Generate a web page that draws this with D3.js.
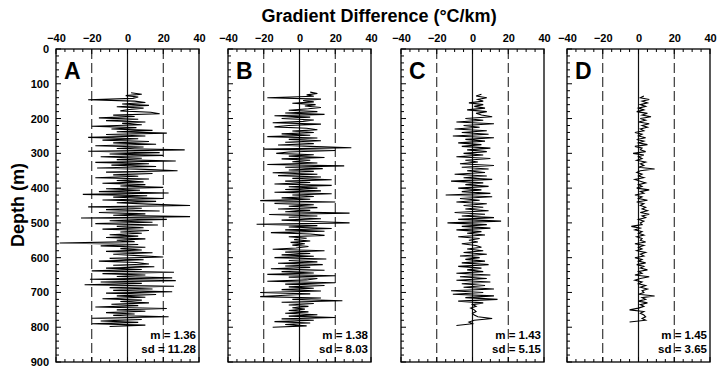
<!DOCTYPE html>
<html><head><meta charset="utf-8">
<script src="https://cdn.jsdelivr.net/npm/d3@7"></script>
<style>
html,body{margin:0;padding:0;background:#fff;}
svg{display:block;font-family:"Liberation Sans",Arial,Helvetica,sans-serif;}
</style></head><body>
<svg id="chart" width="727" height="381"></svg>
<script>
// ---------------- DATA ----------------
const panelLabels = ["A", "B", "C", "D"];
const means = ["1.36", "1.38", "1.43", "1.45"];
const sds = ["11.28", "8.03", "5.15", "3.65"];
const xTicks = [-40, -20, 0, 20, 40];
const yTicks = [0, 100, 200, 300, 400, 500, 600, 700, 800, 900];
const refLines = [-20, 20];
const startDepth = [126, 124, 130, 135];
const depthStep = [4, 4, 5, 5];

const valuesA = [
  2, 8, -1, 6, 3,
  -22, 4, 10, -3, 12, -6, 9, 1, -4, 13,
  18, -8, 4, -16, 6, -12, 10, -3, 8, -20,
  5, -9, 14, -6, 22, -12, 10, -22, 6, -14,
  12, -8, 16, -18, 9, -6, 32, -22, 18, -10,
  20, -15, 8, -6, 27, -18, 12, -9, 16, -17,
  10, 28, -12, 14, -8, 6, -18, 12, -6, 9,
  -14, 10, -4, 20, -12, 7, -16, 23, -25, 11,
  -8, 20, -14, 16, -6, 12, 35, -22, 8, -12,
  18, -16, 10, -8, 35, -26, 22, -10, 14, -18,
  17, -6, 9, -14, 12, -4, 8, -10, 6, -12,
  10, -6, 4, -38, 6, -15, 10, -4, 8, -12,
  14, -8, 6, 20, -10, 9, -16, 5, 12, -8,
  15, -12, 8, -20, 26, -14, 10, -6, 25, -21,
  27, -15, 8, -24, 26, -10, 14, -8, 25, -12,
  16, -6, 10, -14, 8, -4, 12, -9, 6, -18,
  22, -6, 10, -12, 4, -8, 23, -20, 8, -15,
  6, -20, 10, -10
];
const valuesB = [
  6, 10, 4, 8, -18,
  12, 2, 8, -4, 9, 3, 12, 5, -6, 10,
  -8, 14, -14, 6, -10, 8, 2, -15, 12, -6,
  -14, 4, 10, -4, 8, -10, 6, -18, 10, -6,
  12, -8, 8, -12, 6, 29, -20, 20, -6, -13,
  8, -6, 14, -10, 6, -4, 10, -18, 25, -8,
  13, -6, 8, -15, 10, -12, 12, -4, 18, -8,
  6, -14, 18, -6, 10, -8, 12, -14, 18, -4,
  8, -10, 6, -22, 20, -14, 8, -6, 10, -12,
  6, -8, 28, -17, 10, -6, 12, -10, 8, 28,
  -24, 10, -6, 18, -8, 14, -16, 6, 14, -6,
  4, -3, 6, -5, 3, -4, 5, -2, -15, 14,
  -8, 6, -10, 8, -14, 15, -6, 10, -12, 13,
  -8, 6, -16, 14, -10, 8, -18, 20, -6, 10,
  4, -18, 20, -8, 14, -6, 8, -10, 12, -22,
  6, -8, -22, 12, -4, 24, -10, 8, -6, 5,
  -4, 3, -6, 5, -8, 10, -6, 20, -10, 8,
  -14, 6, -8, 4, -15
];
const valuesC = [
  5, 2, 8, 3, 6,
  -2, 6, 1, 7, -3, 8, 2, 5, 11, -4,
  6, -9, 12, -5, 4, -10, 8, -6, 9, -11,
  12, -4, 7, -8, 5, -6, 10, -3, 8, -5,
  6, -9, 10, -4, 3, -7, 12, -6, 9, -3,
  7, -10, 8, -5, 11, -12, 6, -4, 9, -8,
  5, -6, 10, -15, 11, -7, 4, -9, 8, -5,
  6, -4, 9, -10, 7, -6, 12, -8, 16, -14,
  8, -6, 10, -9, 5, -3, 7, -8, 4, -2,
  3, -6, 2, 5, -3, 6, -5, 8, -7, 4,
  -4, 7, -6, 9, -8, 5, -3, 6, -9, 10,
  -7, 8, -9, 10, -6, 7, -5, 12, -12, 6,
  -11, 12, -4, 14, -8, 6, 0, 2, -1, 1,
  2, 0, 1, 3, 11, 1, -2, 0, -9
];
const valuesD = [
  3, 1, 6, 2, 5,
  1, 4, 0, 3, -1, 5, 2, 7, 1, 4,
  0, 6, 2, 5, 1, 3, -2, 2, 0, 4,
  -1, 3, 0, 5, -2, 2, 1, 4, -3, 3,
  0, 2, -1, 4, 1, 3, 0, 9, 1, -1,
  2, 0, 3, -2, 1, 4, 0, 2, -1, 6,
  1, 3, -2, 2, 0, 5, -1, 3, 1, 4,
  2, 5, 1, 6, 2, 4, 0, 3, 1, 2,
  -4, 1, -2, 2, 0, 3, -1, 2, 1, 4,
  -2, 3, 0, 2, -1, 4, 1, 3, -2, 2,
  0, 4, -1, 3, 1, 5, 0, 2, -2, 6,
  1, -2, 2, 0, 4, 1, 5, 2, 3, 0,
  9, 2, 4, 0, 5, 1, 3, 0, -5, 3,
  1, 3, 4, 2, 4, -5
];
const seriesValues = [valuesA, valuesB, valuesC, valuesD];

// ---------------- LAYOUT ----------------
const svg = d3.select("#chart");
const panelLeft = [56, 228, 401, 567];
const panelW = 143;
const plotTop = 49, plotBottom = 362;

const y = d3.scaleLinear().domain([0, 900]).range([plotTop, plotBottom]);

svg.append("text")
  .attr("x", 379).attr("y", 22)
  .attr("text-anchor", "middle")
  .attr("font-size", 18).attr("font-weight", "bold")
  .text("Gradient Difference (°C/km)");

svg.append("text")
  .attr("transform", "translate(24,205) rotate(-90)")
  .attr("text-anchor", "middle")
  .attr("font-size", 18).attr("font-weight", "bold")
  .text("Depth (m)");

panelLabels.forEach((lab, i) => {
  const x = d3.scaleLinear().domain([-40, 40]).range([panelLeft[i], panelLeft[i] + panelW]);
  const g = svg.append("g");

  refLines.forEach(v => {
    g.append("line")
      .attr("x1", x(v)).attr("x2", x(v))
      .attr("y1", plotTop).attr("y2", plotBottom)
      .attr("stroke", "#111").attr("stroke-width", 1)
      .attr("stroke-dasharray", "10,4");
  });
  g.append("line")
    .attr("x1", x(0)).attr("x2", x(0))
    .attr("y1", plotTop).attr("y2", plotBottom)
    .attr("stroke", "#111").attr("stroke-width", 1.2);

  const pts = seriesValues[i].map((v, k) => ({ v: v, depth: startDepth[i] + k * depthStep[i] }));
  g.append("path")
    .datum(pts)
    .attr("fill", "none")
    .attr("stroke", "#000")
    .attr("stroke-width", 1.1)
    .attr("d", d3.line().x(d => x(d.v)).y(d => y(d.depth)));

  const topAx = g.append("g").attr("transform", `translate(0,${plotTop})`)
    .call(d3.axisTop(x).tickValues(xTicks).tickSize(0).tickPadding(7).tickFormat(d3.format("d")));
  topAx.select(".domain").remove();
  topAx.selectAll("text").attr("font-size", 11).attr("font-weight", "bold")
    .attr("font-family", "'Liberation Sans',Arial,sans-serif").attr("fill", "#000");

  const minorX = d3.range(-40, 41, 5);
  const tg = g.append("g");
  minorX.forEach(v => {
    const len = (v % 20 === 0) ? 5 : 3;
    tg.append("line").attr("x1", x(v)).attr("x2", x(v)).attr("y1", plotTop).attr("y2", plotTop + len)
      .attr("stroke", "#000").attr("stroke-width", 1);
    tg.append("line").attr("x1", x(v)).attr("x2", x(v)).attr("y1", plotBottom).attr("y2", plotBottom - len)
      .attr("stroke", "#000").attr("stroke-width", 1);
  });
  const minorY = d3.range(0, 901, 20);
  minorY.forEach(d => {
    const len = (d % 100 === 0) ? 5 : 3;
    tg.append("line").attr("x1", panelLeft[i]).attr("x2", panelLeft[i] + len)
      .attr("y1", y(d)).attr("y2", y(d)).attr("stroke", "#000").attr("stroke-width", 1);
  });

  if (i === 0) {
    const leftAx = g.append("g").attr("transform", `translate(${panelLeft[i]},0)`)
      .call(d3.axisLeft(y).tickValues(yTicks).tickSize(0).tickPadding(7));
    leftAx.select(".domain").remove();
    leftAx.selectAll("text").attr("font-size", 11).attr("font-weight", "bold")
      .attr("font-family", "'Liberation Sans',Arial,sans-serif").attr("fill", "#000");
  }

  g.append("rect")
    .attr("x", panelLeft[i]).attr("y", plotTop)
    .attr("width", panelW).attr("height", plotBottom - plotTop)
    .attr("fill", "none").attr("stroke", "#000").attr("stroke-width", 1.3);

  g.append("text")
    .attr("x", panelLeft[i] + 8).attr("y", plotTop + 30)
    .attr("font-size", 23).attr("font-weight", "bold")
    .text(lab);

  g.append("text")
    .attr("x", panelLeft[i] + panelW - 3).attr("y", 339)
    .attr("text-anchor", "end").attr("font-size", 11.5).attr("font-weight", "bold")
    .text("m = " + means[i]);
  g.append("text")
    .attr("x", panelLeft[i] + panelW - 3).attr("y", 353)
    .attr("text-anchor", "end").attr("font-size", 11.5).attr("font-weight", "bold")
    .text("sd = " + sds[i]);
});
</script>
</body></html>
